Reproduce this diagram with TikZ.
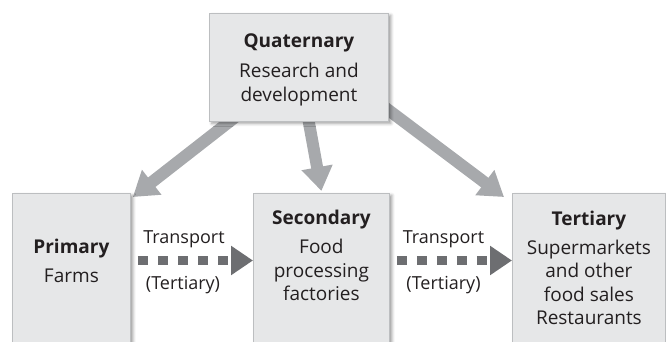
\documentclass[tikz,border=0pt]{standalone}
\usepackage{fontspec}
\setmainfont{Open Sans}
\usetikzlibrary{arrows.meta,calc,shadows.blur,backgrounds}
\definecolor{boxfill}{HTML}{E6E7E8}
\definecolor{boxline}{HTML}{BCBEC0}
\definecolor{linkgray}{HTML}{A7A9AC}
\definecolor{transgray}{HTML}{6D6E71}
\definecolor{inkgray}{HTML}{231F20}

\begin{document}
\begin{tikzpicture}[x=1pt,y=-1pt,
  sector/.style={draw=boxline, line width=0.8pt, fill=boxfill, anchor=north west, inner sep=0pt,
    blur shadow={shadow xshift=2.5pt, shadow yshift=-2pt, shadow blur radius=3pt, shadow opacity=40}},
  sectortext/.style={anchor=north, align=center, inner sep=0pt, text=inkgray,
    font=\fontsize{19}{23.5}\selectfont},
  link/.style={linkgray, line width=12pt, -{Triangle[width=30pt,length=24pt]}},
  transport/.style={transgray, line width=9pt, dash pattern=on 10pt off 10pt,
    -{Triangle[width=28pt,length=22pt]}},
  translabel/.style={anchor=base, text=inkgray, font=\fontsize{18}{22}\selectfont}]
\useasboundingbox (0,0) rectangle (666,342);
\clip (0,0) rectangle (666,342);

% Sectors
\node[sector, minimum width=179pt, minimum height=108pt] (qua) at (209,13) {};
\node[sector, minimum width=118pt, minimum height=170pt] (pri) at (12,193) {};
\node[sector, minimum width=136pt, minimum height=170pt] (sec) at (253,193) {};
\node[sector, minimum width=153pt, minimum height=170pt] (ter) at (512,193) {};

\node[sectortext] (quatext) at (qua.north |- 0,33.5) {\textbf{Quaternary}\\[7pt]Research and\\development};
\node[sectortext] (pritext) at (pri.north |- 0,239) {\textbf{Primary}\\[5.5pt]Farms};
\node[sectortext] (sectext) at (sec.north |- 0,210) {\textbf{Secondary}\\[5.5pt]Food\\processing\\factories};
\node[sectortext] (tertext) at (ter.north |- 0,210.5) {\textbf{Tertiary}\\[5.5pt]Supermarkets\\and other\\food sales\\Restaurants};

% Links from research
\begin{scope}[on background layer]
\draw[link] (qua.center) -- ([shift={(2,4)}]pri.north east);
\draw[link] (qua.center) -- ([yshift=2pt]sec.north);
\draw[link] ([xshift=-57pt]qua.east) -- ([shift={(-8,4)}]ter.north west);
\end{scope}

% Transport
\coordinate (lvl) at (0,260.5);
\draw[transport] ($(pri.east |- lvl)+(7,0)$) -- (sec.west |- lvl);
\draw[transport] ($(sec.east |- lvl)+(7,0)$) -- (ter.west |- lvl);

\node[translabel] (tra1) at (184,243) {Transport};
\node[translabel] (tert1) at (183,289) {(Tertiary)};
\node[translabel] (tra2) at (443.5,243) {Transport};
\node[translabel] (tert2) at (443.5,289) {(Tertiary)};
\end{tikzpicture}
\end{document}
